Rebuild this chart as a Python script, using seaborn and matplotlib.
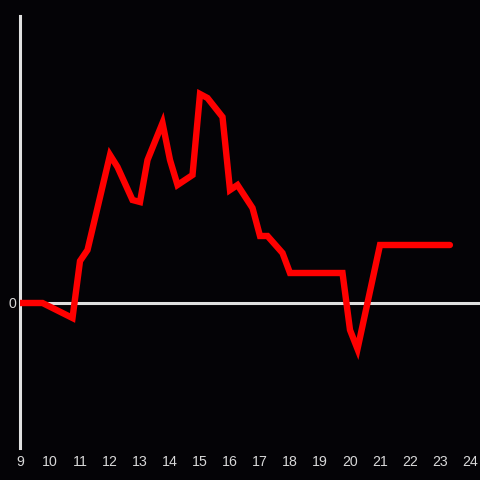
import matplotlib
matplotlib.use("Agg")
import matplotlib.pyplot as plt
import seaborn as sns
import pandas as pd

hours = [9.0, 9.75, 10.75, 11.0, 11.25, 12.0, 12.25, 12.75, 13.0, 13.25, 13.75,
         14.0, 14.25, 14.75, 15.0, 15.25, 15.75, 16.0, 16.25, 16.75, 17.0, 17.25,
         17.75, 18.0, 19.75, 20.0, 20.25, 21.0, 23.33]
values = [0.0, 0.0, -0.15, 0.42, 0.53, 1.48, 1.36, 1.03, 1.01, 1.43, 1.80,
          1.43, 1.18, 1.28, 2.09, 2.05, 1.86, 1.13, 1.18, 0.95, 0.67, 0.67,
          0.50, 0.30, 0.30, -0.27, -0.46, 0.58, 0.58]
xticks = list(range(9, 25))

bg = "#040306"
df = pd.DataFrame({"hour": hours, "value": values})

sns.set_style("dark")
plt.rcParams["font.family"] = ["Liberation Sans", "DejaVu Sans"]
fig = plt.figure(figsize=(4.8, 4.8), dpi=100, facecolor=bg)
ax = fig.add_axes([20/480, 32/480, 460/480, 432/480])
ax.set_facecolor(bg)

ax.axhline(0, color="#e0e0e0", lw=2.2, zorder=1)
sns.lineplot(data=df, x="hour", y="value", ax=ax, color="#ff0000", lw=4.6,
             zorder=3, solid_joinstyle="miter")

ax.set_xlim(9, 24.333)
ax.set_ylim(-1.45, 2.87)
ax.set_xticks(xticks)
ax.set_xticklabels([str(t) for t in xticks])
ax.set_yticks([0])
ax.set_yticklabels(["0"])
ax.tick_params(axis="both", length=0, colors="#d8d8d8", labelsize=10.2)
ax.tick_params(axis="x", pad=5)
ax.tick_params(axis="y", pad=3)
ax.set_xlabel("")
ax.set_ylabel("")
ax.grid(False)
for s in ["top", "right", "bottom"]:
    ax.spines[s].set_visible(False)
ax.spines["left"].set_color("#e0e0e0")
ax.spines["left"].set_linewidth(2.2)

fig.savefig("out.png", dpi=100, facecolor=bg)
